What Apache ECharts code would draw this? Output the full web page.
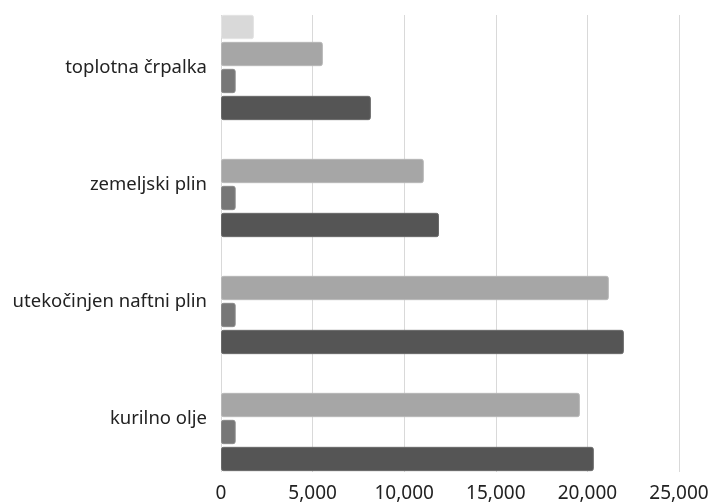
<!DOCTYPE html>
<html>
<head>
<meta charset="utf-8">
<script src="https://cdn.jsdelivr.net/npm/echarts@6/dist/echarts.min.js"></script>
<style>
  html, body { margin: 0; padding: 0; background: #fff; }
  #chart { width: 723px; height: 503px; }
</style>
</head>
<body>
<div id="chart"></div>
<script>
// Heating types, listed bottom to top
const categories = ['kurilno olje', 'utekočinjen naftni plin', 'zemeljski plin', 'toplotna črpalka'];

// Four series per heating type; within each group the first is drawn on top
const seriesD = [null, null, null, 1800];
const seriesC = [19590, 21170, 11070, 5560];
const seriesB = [800, 800, 800, 800];
const seriesA = [20350, 21990, 11900, 8180];

const xTicks = { min: 0, max: 25000, interval: 5000 };

const colors = ['#d9d9d9', '#a6a6a6', '#777777', '#555555'];
const borders = ['#e4e4e4', '#b8b8b8', '#8a8a8a', '#6a6a6a'];

const seriesData = [seriesD, seriesC, seriesB, seriesA];
const fontFamily = 'Noto Sans';

const chart = echarts.init(document.getElementById('chart'));
chart.setOption({
  animation: false,
  grid: [
    // bars and labels
    { left: 221, right: 44, top: 9, bottom: 25, containLabel: false },
    // vertical grid lines, spanning only the bars
    { left: 221, right: 44, top: 15, bottom: 31, containLabel: false, z: 0 }
  ],
  xAxis: [
    {
      type: 'value',
      gridIndex: 0,
      min: xTicks.min,
      max: xTicks.max,
      interval: xTicks.interval,
      axisLine: { show: false },
      axisTick: { show: false },
      splitLine: { show: false },
      axisLabel: {
        color: '#222',
        fontSize: 19,
        fontFamily: fontFamily,
        margin: 7,
        formatter: v => v.toLocaleString('en-US')
      }
    },
    {
      type: 'value',
      gridIndex: 1,
      min: xTicks.min,
      max: xTicks.max,
      interval: xTicks.interval,
      axisLine: { show: false },
      axisTick: { show: false },
      axisLabel: { show: false },
      splitLine: { show: true, lineStyle: { color: '#d9d9d9', width: 1 } }
    }
  ],
  yAxis: [
    {
      type: 'category',
      gridIndex: 0,
      data: categories,
      axisLine: { show: false },
      axisTick: { show: false },
      axisLabel: {
        color: '#222',
        fontSize: 18.5,
        fontFamily: fontFamily,
        margin: 14,
        padding: [8, 0, 0, 0]
      }
    },
    {
      type: 'value',
      gridIndex: 1,
      min: 0,
      max: 1,
      show: false,
      splitLine: { show: false }
    }
  ],
  series: seriesData.map((d, i) => ({
    type: 'bar',
    data: d,
    z: 5,
    barGap: '11%',
    barCategoryGap: '10%',
    itemStyle: { color: colors[i], borderColor: borders[i], borderWidth: 1, borderRadius: 2 }
  }))
});
</script>
</body>
</html>
